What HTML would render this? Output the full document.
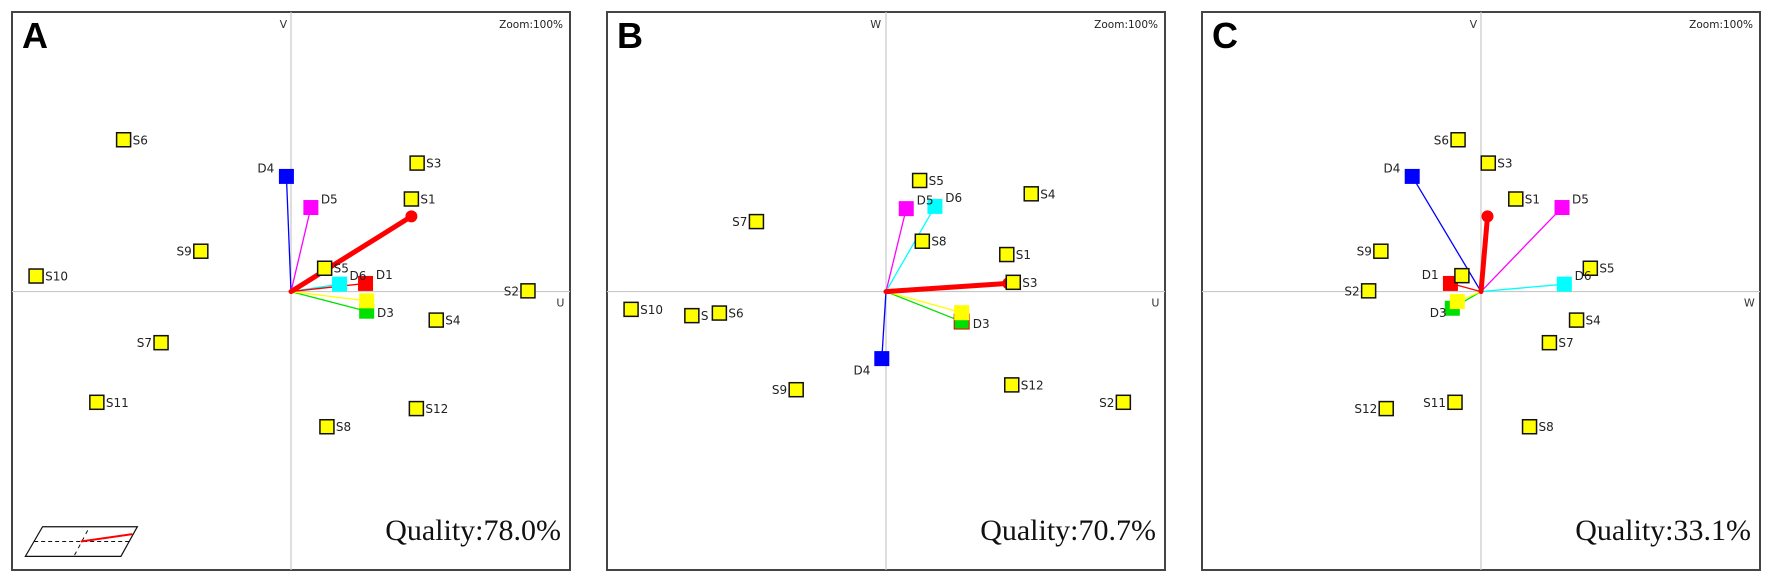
<!DOCTYPE html>
<html><head><meta charset="utf-8">
<style>
html,body{margin:0;padding:0;background:#fff;}
svg{display:block;}
</style></head>
<body>
<svg id="s" width="1772" height="581" xmlns="http://www.w3.org/2000/svg"></svg>
<script>
const svg=document.getElementById('s');
const K=0.3822, KY=0.3703;
let out='';
function panel(P){
  const L=P.left, ZL=P.zl;
  const X=zx=>L+(zx-ZL)*K, Y=zy=>12+(zy-30)*KY;
  const ox=X(P.o[0]), oy=Y(P.o[1]);
  out+=`<rect x="${L}" y="12" width="558" height="558" fill="#fff" stroke="#444" stroke-width="2"/>`;
  out+=`<line x1="${L}" y1="${oy}" x2="${L+558}" y2="${oy}" stroke="#c8c8c8" stroke-width="1.2"/>`;
  out+=`<line x1="${ox}" y1="12" x2="${ox}" y2="570" stroke="#c8c8c8" stroke-width="1.2"/>`;
  out+=`<text x="${L+10}" y="48" font-family="Liberation Sans, sans-serif" font-weight="bold" font-size="36">${P.letter}</text>`;
  out+=`<text x="${L+551}" y="28" text-anchor="end" font-family="DejaVu Sans, sans-serif" font-size="10.5" fill="#222">Zoom:100%</text>`;
  out+=`<text x="${X(P.top[1])}" y="28" text-anchor="middle" font-family="DejaVu Sans, sans-serif" font-size="11" fill="#333">${P.top[0]}</text>`;
  out+=`<text x="${X(P.right[1])}" y="${oy+15}" text-anchor="middle" font-family="DejaVu Sans, sans-serif" font-size="11" fill="#333">${P.right[0]}</text>`;
  out+=`<text x="${L+549}" y="540" text-anchor="end" font-family="Liberation Serif, serif" font-size="30" fill="#111">${P.q}</text>`;
  // vectors
  P.vec.forEach(v=>{
    const x=X(v.p[0]), y=Y(v.p[1]);
    out+=`<line x1="${ox}" y1="${oy}" x2="${x}" y2="${y}" stroke="${v.c}" stroke-width="1.3"/>`;
  });
  P.vec.forEach(v=>{
    const x=X(v.p[0]), y=Y(v.p[1]);
    out+=`<rect x="${x-7.5}" y="${y-7.5}" width="15" height="15" fill="${v.c}" ${v.o?'stroke="#e00" stroke-width="1"':''}/>`;
  });
  // red thick
  const rx=X(P.red[0]), ry=Y(P.red[1]);
  out+=`<line x1="${ox}" y1="${oy}" x2="${rx}" y2="${ry}" stroke="#f00" stroke-width="5" stroke-linecap="round"/>`;
  out+=`<circle cx="${rx}" cy="${ry}" r="6" fill="#f00"/>`;
  // samples
  P.pts.forEach(p=>{
    const x=X(p[1]), y=Y(p[2]);
    out+=`<rect x="${x-7}" y="${y-7}" width="14" height="14" fill="#ff0" stroke="#111" stroke-width="1.5"/>`;
    if(p[3]==='r') out+=`<text x="${x+9}" y="${y+4.5}" font-family="DejaVu Sans, sans-serif" font-size="12" fill="#222">${p[0]}</text>`;
    else out+=`<text x="${x-9}" y="${y+4.5}" text-anchor="end" font-family="DejaVu Sans, sans-serif" font-size="12" fill="#222">${p[0]}</text>`;
  });
  P.labels.forEach(t=>{
    out+=`<text x="${X(t[1])}" y="${Y(t[2])+5}" font-family="DejaVu Sans, sans-serif" font-size="12" fill="#222">${t[0]}</text>`;
  });
  if(P.legend){
    const f=(a,b)=>`${X(a)},${Y(b)}`;
    out+=`<polygon points="${f(65,1500)} ${f(315,1500)} ${f(358,1420)} ${f(110,1420)}" fill="none" stroke="#111" stroke-width="1.2"/>`;
    out+=`<line x1="${X(88)}" y1="${Y(1460)}" x2="${X(337)}" y2="${Y(1460)}" stroke="#111" stroke-dasharray="4,3"/>`;
    out+=`<line x1="${X(228)}" y1="${Y(1430)}" x2="${X(192)}" y2="${Y(1500)}" stroke="#111" stroke-dasharray="4,4"/>`;
    out+=`<line x1="${X(210)}" y1="${Y(1460)}" x2="${X(345)}" y2="${Y(1440)}" stroke="#f00" stroke-width="2"/>`;
  }
}
panel({left:12,zl:30,o:[760,785],letter:'A',top:['V',740],right:['U',1465],q:'Quality:78.0%',legend:true,
 pts:[['S6',322,375,'r'],['S3',1090,438,'r'],['S1',1075,535,'r'],['S9',524,676,'l'],['S10',93,743,'r'],['S5',848,722,'r'],['S2',1380,783,'l'],['S4',1140,862,'r'],['S7',420,923,'l'],['S11',252,1084,'r'],['S12',1088,1101,'r'],['S8',854,1150,'r']],
 vec:[{c:'#0000ff',p:[748,474]},{c:'#ff00ff',p:[812,558]},{c:'#00e000',p:[958,838]},{c:'#ffff00',p:[958,810]},{c:'#00ffff',p:[887,765]},{c:'#ff0000',p:[955,763]}],
 red:[1075,582],
 labels:[['D4',672,450],['D5',838,533],['D6',913,740],['D1',982,737],['D3',985,840]]});
panel({left:607,zl:70,o:[800,785],letter:'B',top:['W',773],right:['U',1505],q:'Quality:70.7%',
 pts:[['S5',888,485,'r'],['S4',1180,521,'r'],['S7',461,596,'l'],['S8',895,649,'r'],['S1',1116,685,'r'],['S3',1133,760,'r'],['S10',133,833,'r'],['S',292,850,'r'],['S6',364,843,'r'],['S9',565,1050,'l'],['S12',1129,1037,'r'],['S2',1421,1084,'l']],
 vec:[{c:'#0000ff',p:[789,966]},{c:'#ff00ff',p:[853,561]},{c:'#00ffff',p:[928,555]},{c:'#00e000',p:[998,866],o:1},{c:'#ffff00',p:[998,842]}],
 red:[1120,763],
 labels:[['D5',880,537],['D6',955,530],['D3',1027,870],['D4',715,995]]});
panel({left:1202,zl:80,o:[810,785],letter:'C',top:['V',790],right:['W',1512],q:'Quality:33.1%',
 pts:[['S6',750,375,'l'],['S3',829,438,'r'],['S1',901,535,'r'],['S9',548,676,'l'],['S5',1096,722,'r'],['S2',516,783,'l'],['S4',1060,862,'r'],['S7',989,923,'r'],['S11',742,1084,'l'],['S12',562,1101,'l'],['S8',937,1150,'r'],['',760,742,'r']],
 vec:[{c:'#0000ff',p:[630,474]},{c:'#ff00ff',p:[1022,558]},{c:'#00ffff',p:[1028,765]},{c:'#ff0000',p:[730,763]},{c:'#00e000',p:[735,830]},{c:'#ffff00',p:[748,812]}],
 red:[827,582],
 labels:[['D4',555,450],['D5',1048,533],['D6',1055,740],['D1',655,737],['D3',676,840]]});
svg.innerHTML=out;
</script>
</body></html>
